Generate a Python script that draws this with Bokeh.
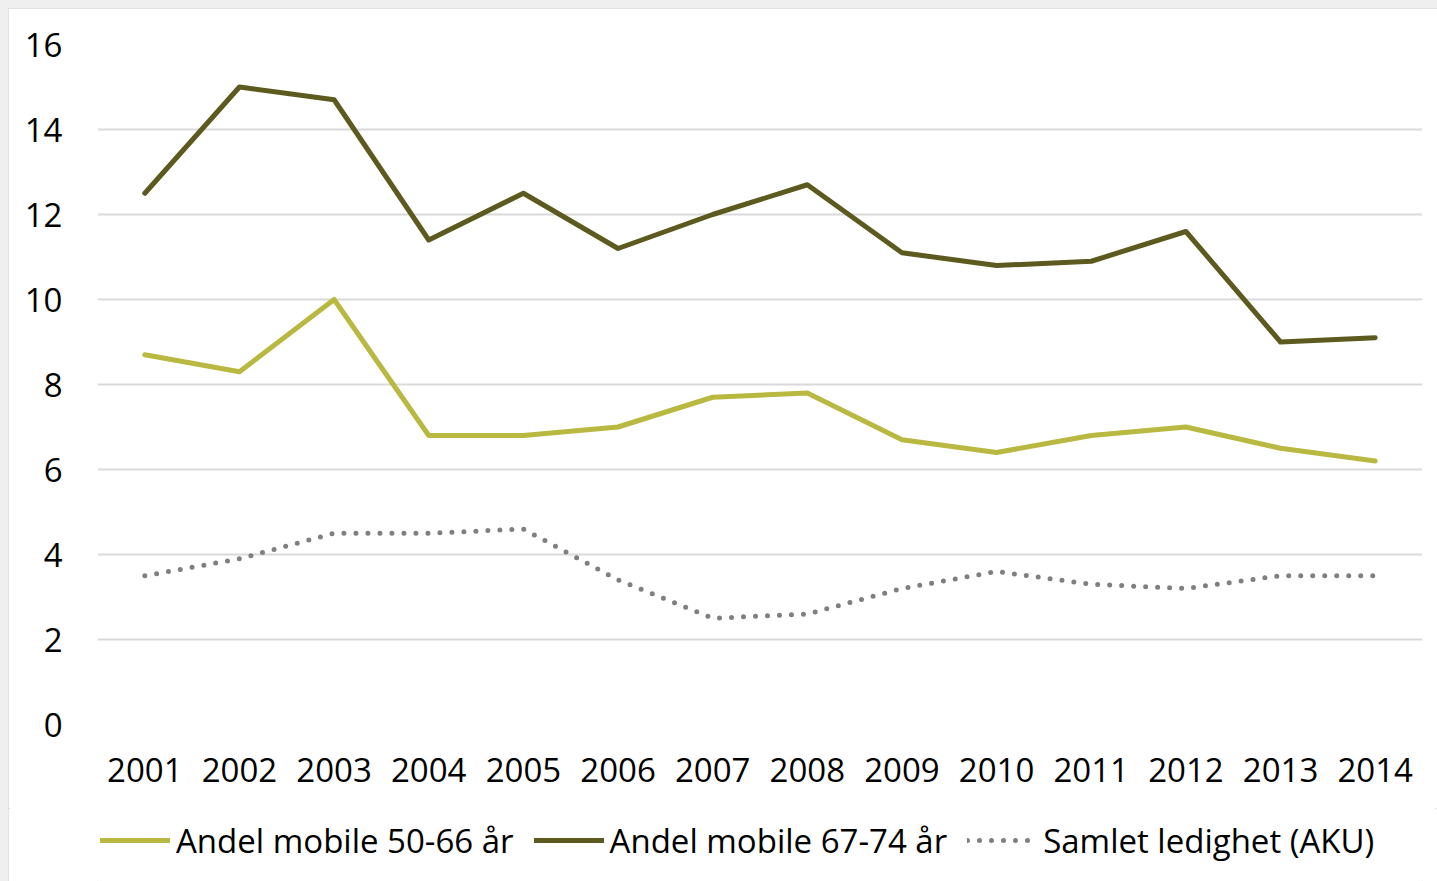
from bokeh.plotting import figure
from bokeh.layouts import column
from bokeh.models import FactorRange, Range1d, Legend, LegendItem, SingleIntervalTicker
from bokeh.embed import file_html
from bokeh.resources import INLINE

years = [str(y) for y in range(2001, 2015)]
andel_50_66 = [8.7, 8.3, 10.0, 6.8, 6.8, 7.0, 7.7, 7.8, 6.7, 6.4, 6.8, 7.0, 6.5, 6.2]
andel_67_74 = [12.5, 15.0, 14.7, 11.4, 12.5, 11.2, 12.0, 12.7, 11.1, 10.8, 10.9, 11.6, 9.0, 9.1]
ledighet = [3.5, 3.9, 4.5, 4.5, 4.6, 3.4, 2.5, 2.6, 3.2, 3.6, 3.3, 3.2, 3.5, 3.5]
labels = ["Andel mobile 50-66 år", "Andel mobile 67-74 år", "Samlet ledighet (AKU)"]
colors = ["#b9b841", "#5c5a1e", "#7f7f7f"]
dashes = ["solid", "solid", "0 12"]

FONT = "Open Sans"
FS = "33px"

p = figure(x_range=FactorRange(factors=years), y_range=Range1d(0, 16),
           width=1429, height=800, output_backend="svg", toolbar_location=None,
           min_border_left=89, min_border_right=15, min_border_top=36, min_border_bottom=84)
p.background_fill_color = "white"
p.border_fill_color = "white"
p.outline_line_color = None

for vals, c, d in zip([andel_50_66, andel_67_74, ledighet], colors, dashes):
    p.line(years, vals, line_color=c, line_width=5, line_dash=d,
           line_join="round", line_cap="round")

p.yaxis.ticker = SingleIntervalTicker(interval=2)
p.ygrid.grid_line_color = "#d9d9d9"
p.ygrid.grid_line_width = 2
p.xgrid.grid_line_color = None
for ax in (p.xaxis[0], p.yaxis[0]):
    ax.axis_line_color = None
    ax.major_tick_line_color = None
    ax.minor_tick_line_color = None
    ax.major_label_text_font = FONT
    ax.major_label_text_font_size = FS
    ax.major_label_text_color = "#000000"
p.yaxis.major_label_standoff = 29
p.xaxis.major_label_standoff = 27

# legend strip below the chart (proxy renderers lie outside its ranges)
p2 = figure(width=1429, height=73, x_range=Range1d(0, 1), y_range=Range1d(0, 1),
            output_backend="svg", toolbar_location=None, x_axis_type=None, y_axis_type=None,
            min_border_left=0, min_border_right=0, min_border_top=0, min_border_bottom=0)
p2.grid.visible = False
p2.outline_line_color = None
p2.background_fill_color = "white"
p2.border_fill_color = "white"
items = []
for lab, c, d in zip(labels, colors, dashes):
    r = p2.line([-5, -4], [-5, -4], line_color=c, line_width=5, line_dash=d, line_cap="round")
    items.append(LegendItem(label=lab, renderers=[r]))

legend = Legend(items=items, orientation="horizontal", location=(3, 16))
legend.label_text_font = FONT
legend.label_text_font_size = FS
legend.label_text_color = "#000000"
legend.glyph_width = 70
legend.glyph_height = 50
legend.label_height = 50
legend.label_standoff = 6
legend.spacing = 20
legend.padding = 3
legend.margin = 0
legend.border_line_color = None
legend.background_fill_color = None
p2.add_layout(legend, "center")

layout = column(p, p2, spacing=0)
layout.styles = {"outline": "2px solid #d9d9d9", "outline-offset": "-2px", "background": "white"}

template = """
{% block postamble %}
<style>
html, body { background: #efefef; overflow: hidden; }
body { margin: 0 !important; padding: 8px 0 0 8px !important; box-sizing: border-box; }
</style>
{% endblock %}
"""

open("out.html", "w").write(file_html(layout, INLINE, template=template))
